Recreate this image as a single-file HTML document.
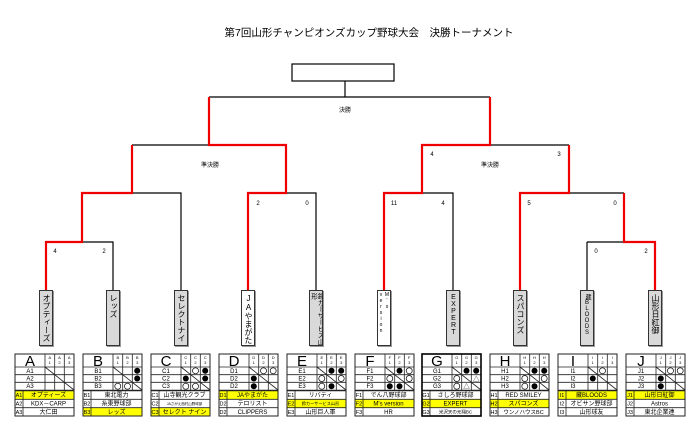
<!DOCTYPE html>
<html><head><meta charset="utf-8">
<style>
body{margin:0;background:#fff;width:700px;height:434px;overflow:hidden;position:relative;font-family:"Liberation Sans","Noto Sans CJK JP",sans-serif}
.tb{position:absolute;top:290px;width:14px;height:56px;border:1px solid #333;box-sizing:border-box;background:#d9d9d9;font-size:8px;writing-mode:vertical-rl;text-orientation:upright;text-align:left;line-height:12px;padding-top:3px;overflow:hidden;box-shadow:1px 1px 0 #999}
.w{background:#fff}
</style></head><body>
<svg width="700" height="434" style="position:absolute;left:0;top:0" font-family="Liberation Sans, Noto Sans CJK JP, sans-serif">
<defs>
<g id="grid" fill="none" stroke="#222" stroke-width="0.8">
<rect x="0" y="0" width="59" height="62" stroke-width="1"/>
<path d="M0 13H59M0 20.7H59M0 28.3H59M0 45.3H59M0 53.7H59M30 0V36M39.7 0V36M49.3 0V36M8 36.5V62M30 13L59 36"/>
<path d="M0 36.5H59" stroke-width="1.4"/>
</g>
</defs>
<text x="369" y="36" font-size="10.5" text-anchor="middle">第7回山形チャンピオンズカップ野球大会　決勝トーナメント</text>
<rect x="292" y="64" width="102" height="17" fill="#fff" stroke="#000" stroke-width="1.2"/>
<g fill="none" stroke="#000" stroke-width="1.2">
<path d="M345 81V97M209 97H490"/>
<path d="M132 145H209M286 193H316V290M82 193H132M132 193H181V290M82 242H113V290"/>
<path d="M490 145H569M384 193H422M422 193H453V290M520 193H569M569 193H624M587 242H624M587 242V290"/>
</g>
<g fill="none" stroke="#e00" stroke-width="2.2">
<path d="M209 97V145H286V193H248V290"/>
<path d="M132 145V193H82V242H46V290"/>
<path d="M490 97V145H422V193H384V290"/>
<path d="M569 145V193H520V290"/>
<path d="M624 193V242H655V290"/>
</g>
<g font-size="6" text-anchor="middle">
<text x="345" y="112">決勝</text>
<text x="210" y="167">準決勝</text>
<text x="490" y="167">準決勝</text>
<text x="55" y="253">4</text><text x="104" y="253">2</text>
<text x="258" y="205">2</text><text x="307" y="205">0</text>
<text x="394" y="205">11</text><text x="443" y="205">4</text>
<text x="432" y="156">4</text><text x="559" y="156">3</text>
<text x="529" y="205">5</text><text x="615" y="205">0</text>
<text x="596" y="253">0</text><text x="646" y="253">2</text>
</g>

<g font-size="6" text-anchor="middle">
<g transform="translate(15,354)">
<rect x="0" y="36.5" width="59" height="8.6" fill="#ff0"/>
<use href="#grid"/>
<text x="15" y="12" font-size="15">A</text>
<g font-size="4"><text x="34.8" y="5">A</text><text x="34.8" y="10">1</text><text x="44.5" y="5">A</text><text x="44.5" y="10">2</text><text x="54.2" y="5">A</text><text x="54.2" y="10">3</text></g>
<text x="15" y="19">A1</text><text x="15" y="26.5">A2</text><text x="15" y="34">A3</text>
<g font-size="5.5"><text x="4" y="43">A1</text><text x="4" y="51.5">A2</text><text x="4" y="60">A3</text></g>
<text x="33.5" y="43">オプティーズ</text><text x="33.5" y="51.5">KDX－CARP</text><text x="33.5" y="60">大仁田</text>
</g>
<g transform="translate(83,354)">
<rect x="0" y="53.7" width="59" height="8.3" fill="#ff0"/>
<use href="#grid"/>
<text x="15" y="12" font-size="15">B</text>
<g font-size="4"><text x="34.8" y="5">B</text><text x="34.8" y="10">1</text><text x="44.5" y="5">B</text><text x="44.5" y="10">2</text><text x="54.2" y="5">B</text><text x="54.2" y="10">3</text></g>
<text x="15" y="19">B1</text><text x="15" y="26.5">B2</text><text x="15" y="34">B3</text>
<circle cx="54.2" cy="16.8" r="3"/><circle cx="54.2" cy="24.5" r="3"/>
<g fill="none" stroke="#000" stroke-width="0.7"><circle cx="34.8" cy="32.2" r="3"/><circle cx="44.5" cy="32.2" r="3"/></g>
<g font-size="5.5"><text x="4" y="43">B1</text><text x="4" y="51.5">B2</text><text x="4" y="60">B3</text></g>
<text x="33.5" y="43">東北電力</text><text x="33.5" y="51.5">糸東野球部</text><text x="33.5" y="60">レッズ</text>
</g>
<g transform="translate(151,354)">
<rect x="0" y="53.7" width="59" height="8.3" fill="#ff0"/>
<use href="#grid"/>
<text x="15" y="12" font-size="15">C</text>
<g font-size="4"><text x="34.8" y="5">C</text><text x="34.8" y="10">1</text><text x="44.5" y="5">C</text><text x="44.5" y="10">2</text><text x="54.2" y="5">C</text><text x="54.2" y="10">3</text></g>
<text x="15" y="19">C1</text><text x="15" y="26.5">C2</text><text x="15" y="34">C3</text>
<circle cx="54.2" cy="16.8" r="3"/><circle cx="34.8" cy="24.5" r="3"/><circle cx="54.2" cy="24.5" r="3"/>
<g fill="none" stroke="#000" stroke-width="0.7"><circle cx="44.5" cy="16.8" r="3"/><circle cx="34.8" cy="32.2" r="3"/><circle cx="44.5" cy="32.2" r="3"/></g>
<g font-size="5.5"><text x="4" y="43">C1</text><text x="4" y="51.5">C2</text><text x="4" y="60">C3</text></g>
<text x="33.5" y="43">山寺観光クラブ</text><text x="33.5" y="51" font-size="3.5">JAさがえ西村山野球部</text><text x="33.5" y="60">セレクト ナイン</text>
</g>
<g transform="translate(219,354)">
<rect x="0" y="36.5" width="59" height="8.6" fill="#ff0"/>
<use href="#grid"/>
<text x="15" y="12" font-size="15">D</text>
<g font-size="4"><text x="34.8" y="5">D</text><text x="34.8" y="10">1</text><text x="44.5" y="5">D</text><text x="44.5" y="10">2</text><text x="54.2" y="5">D</text><text x="54.2" y="10">3</text></g>
<text x="15" y="19">D1</text><text x="15" y="26.5">D2</text><text x="15" y="34">D2</text>
<circle cx="34.8" cy="24.5" r="3"/><circle cx="34.8" cy="32.2" r="3"/>
<g fill="none" stroke="#000" stroke-width="0.7"><circle cx="44.5" cy="16.8" r="3"/><circle cx="54.2" cy="16.8" r="3"/></g>
<g font-size="5.5"><text x="4" y="43">D1</text><text x="4" y="51.5">D2</text><text x="4" y="60">D2</text></g>
<text x="33.5" y="43">JAやまがた</text><text x="33.5" y="51.5">テロリスト</text><text x="33.5" y="60">CLIPPERS</text>
</g>
<g transform="translate(287,354)">
<rect x="0" y="45.3" width="59" height="8.4" fill="#ff0"/>
<use href="#grid"/>
<text x="15" y="12" font-size="15">E</text>
<g font-size="4"><text x="34.8" y="5">E</text><text x="34.8" y="10">1</text><text x="44.5" y="5">E</text><text x="44.5" y="10">2</text><text x="54.2" y="5">E</text><text x="54.2" y="10">3</text></g>
<text x="15" y="19">E1</text><text x="15" y="26.5">E2</text><text x="15" y="34">E3</text>
<circle cx="44.5" cy="16.8" r="3"/><circle cx="54.2" cy="16.8" r="3"/><circle cx="44.5" cy="32.2" r="3"/>
<g fill="none" stroke="#000" stroke-width="0.7"><circle cx="34.8" cy="24.5" r="3"/><circle cx="54.2" cy="24.5" r="3"/><circle cx="34.8" cy="32.2" r="3"/></g>
<g font-size="5.5"><text x="4" y="43">E1</text><text x="4" y="51.5">E2</text><text x="4" y="60">E3</text></g>
<text x="33.5" y="43">リバティ</text><text x="33.5" y="51.2" font-size="4.2">鈴カーサービス山形</text><text x="33.5" y="60">山形巨人軍</text>
</g>
<g transform="translate(355,354)">
<rect x="0" y="45.3" width="59" height="8.4" fill="#ff0"/>
<use href="#grid"/>
<text x="15" y="12" font-size="15">F</text>
<g font-size="4"><text x="34.8" y="5">F</text><text x="34.8" y="10">1</text><text x="44.5" y="5">F</text><text x="44.5" y="10">2</text><text x="54.2" y="5">F</text><text x="54.2" y="10">3</text></g>
<text x="15" y="19">F1</text><text x="15" y="26.5">F2</text><text x="15" y="34">F3</text>
<circle cx="44.5" cy="16.8" r="3"/><circle cx="34.8" cy="32.2" r="3"/><circle cx="44.5" cy="32.2" r="3"/>
<g fill="none" stroke="#000" stroke-width="0.7"><circle cx="54.2" cy="16.8" r="3"/><circle cx="34.8" cy="24.5" r="3"/><circle cx="54.2" cy="24.5" r="3"/></g>
<g font-size="5.5"><text x="4" y="43">F1</text><text x="4" y="51.5">F2</text><text x="4" y="60">F3</text></g>
<text x="33.5" y="43">でん八野球部</text><text x="33.5" y="51.5">M's version</text><text x="33.5" y="60">HR</text>
</g>
<g transform="translate(422,354)">
<rect x="0" y="45.3" width="59" height="8.4" fill="#ff0"/>
<use href="#grid"/>
<rect x="0" y="0" width="59" height="62" fill="none" stroke="#000" stroke-width="1.6"/>
<text x="15" y="12" font-size="15">G</text>
<g font-size="4"><text x="34.8" y="5">G</text><text x="34.8" y="10">1</text><text x="44.5" y="5">G</text><text x="44.5" y="10">2</text><text x="54.2" y="5">G</text><text x="54.2" y="10">3</text></g>
<text x="15" y="19">G1</text><text x="15" y="26.5">G2</text><text x="15" y="34">G3</text>
<circle cx="44.5" cy="16.8" r="3"/><circle cx="54.2" cy="16.8" r="3"/>
<g fill="none" stroke="#000" stroke-width="0.7"><circle cx="34.8" cy="24.5" r="3"/><circle cx="34.8" cy="32.2" r="3"/></g>
<text x="54.2" y="26.8" font-size="6.5">△</text><text x="44.5" y="34.5" font-size="6.5">△</text>
<g font-size="5.5"><text x="4" y="43">G1</text><text x="4" y="51.5">G2</text><text x="4" y="60">G3</text></g>
<text x="33.5" y="43">さしろ野球部</text><text x="33.5" y="51.5">EXPERT</text><text x="33.5" y="59.5" font-size="4.5">米沢天の元翔BC</text>
</g>
<g transform="translate(490,354)">
<rect x="0" y="45.3" width="59" height="8.4" fill="#ff0"/>
<use href="#grid"/>
<text x="15" y="12" font-size="15">H</text>
<g font-size="4"><text x="34.8" y="5">H</text><text x="34.8" y="10">1</text><text x="44.5" y="5">H</text><text x="44.5" y="10">2</text><text x="54.2" y="5">H</text><text x="54.2" y="10">3</text></g>
<text x="15" y="19">H1</text><text x="15" y="26.5">H2</text><text x="15" y="34">H3</text>
<circle cx="44.5" cy="16.8" r="3"/><circle cx="54.2" cy="16.8" r="3"/><circle cx="44.5" cy="32.2" r="3"/>
<g fill="none" stroke="#000" stroke-width="0.7"><circle cx="34.8" cy="24.5" r="3"/><circle cx="54.2" cy="24.5" r="3"/><circle cx="34.8" cy="32.2" r="3"/></g>
<g font-size="5.5"><text x="4" y="43">H1</text><text x="4" y="51.5">H2</text><text x="4" y="60">H3</text></g>
<text x="33.5" y="43">RED SMILEY</text><text x="33.5" y="51.5">スパコンズ</text><text x="33.5" y="60" font-size="5.5">ウンノハウスBC</text>
</g>
<g transform="translate(558,354)">
<rect x="0" y="36.5" width="59" height="8.6" fill="#ff0"/>
<use href="#grid"/>
<text x="15" y="12" font-size="15">I</text>
<g font-size="4"><text x="34.8" y="5">I</text><text x="34.8" y="10">1</text><text x="44.5" y="5">I</text><text x="44.5" y="10">2</text><text x="54.2" y="5">I</text><text x="54.2" y="10">3</text></g>
<text x="15" y="19">I1</text><text x="15" y="26.5">I2</text><text x="15" y="34">I3</text>
<circle cx="34.8" cy="24.5" r="3"/>
<g fill="none" stroke="#000" stroke-width="0.7"><circle cx="44.5" cy="16.8" r="3"/></g>
<g font-size="5.5"><text x="4" y="43">I1</text><text x="4" y="51.5">I2</text><text x="4" y="60">I3</text></g>
<text x="33.5" y="43">藏BLOODS</text><text x="33.5" y="51.5">オビサン野球部</text><text x="33.5" y="60">山形球友</text>
</g>
<g transform="translate(626,354)">
<rect x="0" y="36.5" width="59" height="8.6" fill="#ff0"/>
<use href="#grid"/>
<text x="15" y="12" font-size="15">J</text>
<g font-size="4"><text x="34.8" y="5">J</text><text x="34.8" y="10">1</text><text x="44.5" y="5">J</text><text x="44.5" y="10">2</text><text x="54.2" y="5">J</text><text x="54.2" y="10">3</text></g>
<text x="15" y="19">J1</text><text x="15" y="26.5">J2</text><text x="15" y="34">J3</text>
<circle cx="34.8" cy="24.5" r="3"/><circle cx="34.8" cy="32.2" r="3"/>
<g fill="none" stroke="#000" stroke-width="0.7"><circle cx="44.5" cy="16.8" r="3"/><circle cx="54.2" cy="16.8" r="3"/></g>
<g font-size="5.5"><text x="4" y="43">J1</text><text x="4" y="51.5">J2</text><text x="4" y="60">J3</text></g>
<text x="33.5" y="43">山形日紅御</text><text x="33.5" y="51.5">Astros</text><text x="33.5" y="60">東北企業連</text>
</g>
</g>
</svg>
<div class="tb" style="left:39px">オプティーズ</div>
<div class="tb" style="left:106px">レッズ</div>
<div class="tb" style="left:174px">セレクトナイン</div>
<div class="tb w" style="left:241px">JAやまがた</div>
<div class="tb" style="left:309px;font-size:6.5px;line-height:6.5px;padding-top:2px">鈴カーサービス山形</div>
<div class="tb w" style="left:377px;font-size:5px;line-height:6px;padding-top:1px">M's version</div>
<div class="tb" style="left:446px;font-size:7px">EXPERT</div>
<div class="tb" style="left:513px">スパコンズ</div>
<div class="tb" style="left:580px;font-size:6px">藏BLOODS</div>
<div class="tb" style="left:648px">山形日紅御</div>
</body></html>
